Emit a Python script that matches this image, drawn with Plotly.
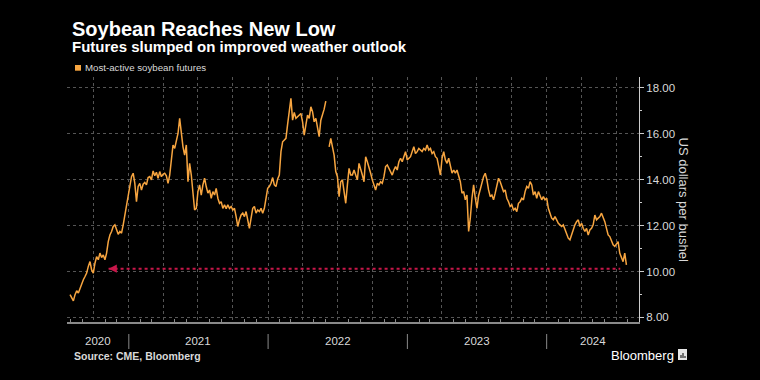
import pandas as pd
import plotly.graph_objects as go

# ---------------- data ----------------
SERIES_NAME = "Most-active soybean futures"
START_DATE = "2020-07-31"
END_DATE = "2024-07-28"
X_RANGE = ["2020-07-23", "2024-08-30"]
Y_RANGE = [7.8, 18.47]
Y_TICKS = [8, 10, 12, 14, 16, 18]
YEARS = [2020, 2021, 2022, 2023, 2024]

futures_price = [
    8.99, 8.84, 8.72, 8.99, 9.16, 9.06, 9.28, 9.45, 9.64, 9.78, 9.93, 10.22, 10.43, 10.07, 9.93,
    10.36, 10.65, 10.51, 10.80, 10.61, 10.72, 10.51, 10.80, 11.30, 11.59, 11.74, 11.96, 12.03,
    11.77, 11.62, 11.74, 11.67, 12.03, 12.46, 12.90, 13.41, 13.70, 14.13, 14.28, 13.84, 13.04,
    13.70, 13.84, 13.55, 13.80, 13.88, 13.77, 14.09, 14.13, 13.99, 14.38, 14.17, 14.32, 14.06,
    14.35, 14.13, 14.23,
    14.28, 14.17, 13.84, 14.20, 14.86, 15.51, 15.36, 15.72, 16.01, 16.67, 15.94, 15.43, 15.07,
    15.51, 13.91, 14.71, 14.20, 13.48, 12.68, 12.75, 13.48, 13.77, 13.33, 13.77, 14.06, 13.70,
    13.41, 13.55, 13.19, 13.48, 13.33, 13.62, 13.19, 12.97, 13.04, 12.75, 12.90, 12.74, 12.90,
    12.75, 12.83, 12.68, 12.75, 12.39, 11.96, 12.25, 12.46, 12.54, 12.39, 12.61, 12.25, 11.88,
    12.32, 12.75, 12.83, 12.54, 12.68, 12.61, 12.75,
    12.54, 12.75, 13.19, 13.62, 13.70, 13.84, 14.09, 13.77, 13.70, 14.03, 14.20, 15.22, 15.65,
    15.72, 15.80, 16.41, 16.96, 17.54, 16.59, 16.93, 16.67, 16.74, 16.81, 16.88, 16.52, 15.94,
    16.38, 16.81, 16.67, 17.17, 16.96, 16.52, 16.67, 16.23, 15.87, 16.59, 16.81, 17.07, 17.42,
    None, 15.43, 15.80, 15.43, 15.07, 14.35, 14.13, 13.26, 13.91, 13.99, 13.33, 12.97, 13.77,
    14.49, 14.20, 14.20, 14.42, 14.20, 13.99, 14.71,
    14.49, 14.20, 13.91, 15.00, 14.78, 14.57, 14.28, 13.99, 13.77, 13.55, 13.84, 13.77, 13.91,
    13.84, 14.13, 14.57, 14.64, 14.49, 14.35, 14.20, 14.42, 14.57, 14.42, 14.78, 14.93, 14.78,
    15.00, 15.22, 14.86, 14.93, 15.00, 15.22, 15.43, 15.14, 15.22, 15.36, 15.29, 15.22, 15.36,
    15.29, 15.51, 15.29, 15.36, 15.14, 15.22, 15.00, 14.93, 14.49, 14.20, 14.93, 15.22, 14.86,
    14.71, 14.93, 14.57, 14.28, 14.42, 14.28, 14.42,
    14.13, 13.91, 13.41, 13.48, 13.12, 13.33, 11.74, 12.32, 13.19, 13.77, 13.20, 12.75, 13.30,
    13.62, 13.91, 14.13, 14.28, 13.99, 13.55, 13.26, 13.33, 13.12, 13.41, 13.70, 14.06, 13.91,
    13.70, 13.48, 13.55, 13.19, 13.04, 12.83, 12.90, 12.68, 12.75, 12.61, 12.97, 13.04, 13.19,
    13.12, 13.48, 13.70, 13.62, 13.91, 13.77, 13.33, 13.48, 13.19, 13.48, 13.33, 13.12, 13.26,
    13.12, 13.19, 12.75, 12.54, 12.32, 12.25, 12.39,
    12.25, 12.10, 12.03, 11.96, 12.03, 11.81, 11.67, 11.45, 11.38, 11.59, 11.88, 12.03, 12.17,
    12.25, 11.96, 12.10, 11.88, 11.74, 11.88, 11.59, 11.81, 11.88, 12.03, 12.46, 12.25, 12.32,
    12.39, 12.54, 12.39, 12.17, 11.88, 11.59, 11.52, 11.30, 11.16, 11.09, 11.23, 11.30, 10.80,
    10.58, 10.43, 10.80, 10.29,
]

# arrow: current level pointing back to when prices were last this low
ARROW_LEVEL = 10.12
ARROW_FROM = "2024-07-12"
ARROW_TO = "2020-11-09"

dates = pd.date_range(START_DATE, END_DATE, periods=len(futures_price))

# ---------------- styling ----------------
W, H = 760, 380
L, R, T, B = 67, 121, 77, 58
ORANGE = "#f7a540"
GRID = "#555555"
TXT = "#d9d9d9"
FONT = "Liberation Sans, Arial, sans-serif"
PW, PH = W - L - R, H - T - B


def px_x(px):
    return (px - L) / PW


def px_y(py):
    return (H - B - py) / PH


fig = go.Figure()
fig.add_trace(go.Scatter(
    x=dates, y=futures_price, mode="lines", name=SERIES_NAME,
    line=dict(color=ORANGE, width=1.5), showlegend=False, connectgaps=False,
))

shapes = []
annotations = []

# red dotted arrow line
shapes.append(dict(type="line", xref="x", yref="y", x0=ARROW_TO, x1=ARROW_FROM,
                   y0=ARROW_LEVEL, y1=ARROW_LEVEL,
                   line=dict(color="#c8174a", width=2, dash="dot"), layer="above"))
annotations.append(dict(x=ARROW_TO, y=ARROW_LEVEL, xref="x", yref="y", ax=10, ay=0,
                        axref="pixel", ayref="pixel", showarrow=True, arrowhead=2,
                        arrowsize=1.1, arrowwidth=1.5, arrowcolor="#c8174a", text=""))

# year separators and labels
x0 = pd.Timestamp(X_RANGE[0])
x1 = pd.Timestamp(X_RANGE[1])
for yr in YEARS:
    ys = max(pd.Timestamp(f"{yr}-01-01"), x0)
    ye = min(pd.Timestamp(f"{yr + 1}-01-01"), x1)
    mid = ys + (ye - ys) / 2
    annotations.append(dict(x=mid, y=px_y(341), xref="x", yref="paper", text=str(yr),
                            showarrow=False, font=dict(family=FONT, size=11.5, color=TXT),
                            xanchor="center", yanchor="middle"))
    if pd.Timestamp(f"{yr}-01-01") > x0:
        shapes.append(dict(type="line", xref="x", yref="paper", x0=f"{yr}-01-01",
                           x1=f"{yr}-01-01", y0=px_y(349), y1=px_y(334),
                           line=dict(color="#8a8a8a", width=1)))

# titles
annotations.append(dict(x=px_x(70), y=px_y(29), xref="paper", yref="paper",
                        text="<b>Soybean Reaches New Low</b>", showarrow=False,
                        xanchor="left", yanchor="middle",
                        font=dict(family=FONT, size=20, color="#ffffff")))
annotations.append(dict(x=px_x(70), y=px_y(46.5), xref="paper", yref="paper",
                        text="<b>Futures slumped on improved weather outlook</b>",
                        showarrow=False, xanchor="left", yanchor="middle",
                        font=dict(family=FONT, size=15, color="#ffffff")))
# legend
shapes.append(dict(type="rect", xref="paper", yref="paper", x0=px_x(75), x1=px_x(81),
                   y0=px_y(70.7), y1=px_y(65), fillcolor=ORANGE, line=dict(width=0)))
annotations.append(dict(x=px_x(82.5), y=px_y(67.5), xref="paper", yref="paper",
                        text=SERIES_NAME, showarrow=False, xanchor="left",
                        yanchor="middle", font=dict(family=FONT, size=9.7, color=TXT)))
# y axis title
annotations.append(dict(x=px_x(683), y=0.5, xref="paper", yref="paper",
                        text="US dollars per bushel", textangle=90, showarrow=False,
                        xanchor="center", yanchor="middle",
                        font=dict(family=FONT, size=13, color=TXT)))
# footer
annotations.append(dict(x=px_x(72), y=px_y(356), xref="paper", yref="paper",
                        text="<b>Source: CME, Bloomberg</b>", showarrow=False,
                        xanchor="left", yanchor="middle",
                        font=dict(family=FONT, size=10.5, color=TXT)))
annotations.append(dict(x=px_x(676), y=px_y(355), xref="paper", yref="paper",
                        text="Bloomberg", showarrow=False, xanchor="right",
                        yanchor="middle", font=dict(family=FONT, size=13, color="#ffffff")))
shapes.append(dict(type="rect", xref="paper", yref="paper", x0=px_x(678), x1=px_x(687),
                   y0=px_y(360), y1=px_y(349), fillcolor="#e6e6e6", line=dict(width=0)))
for bx, by in [(681, 355), (683, 353), (685, 356)]:
    shapes.append(dict(type="line", xref="paper", yref="paper", x0=px_x(bx), x1=px_x(bx),
                       y0=px_y(358), y1=px_y(by), line=dict(color="#000000", width=1)))

fig.update_layout(
    width=W, height=H,
    margin=dict(l=L, r=R, t=T, b=B),
    paper_bgcolor="#000000", plot_bgcolor="#000000",
    showlegend=False,
    shapes=shapes, annotations=annotations,
    font=dict(family=FONT, color=TXT),
    xaxis=dict(
        type="date", range=X_RANGE, dtick="M3", tick0="2020-01-01",
        showgrid=True, gridcolor=GRID, griddash="dot", gridwidth=1,
        showticklabels=False, ticks="", zeroline=False,
        showline=True, linecolor="#8a8a8a", linewidth=1.5,
        minor=dict(dtick="M1", tick0="2020-01-01", ticks="inside", ticklen=3,
                   tickcolor="#8a8a8a", showgrid=False),
    ),
    yaxis=dict(
        side="right", range=Y_RANGE, tickvals=Y_TICKS, tickformat=".2f",
        showgrid=True, gridcolor=GRID, griddash="dot", gridwidth=1,
        zeroline=False, showline=True, linecolor="#cccccc", linewidth=1,
        ticks="outside", ticklen=4, tickcolor="#cccccc",
        tickfont=dict(family=FONT, size=11.5, color=TXT),
        minor=dict(tickvals=[9, 11, 13, 15, 17], ticks="outside", ticklen=2,
                   tickcolor="#cccccc", showgrid=False),
    ),
)

fig.write_html(
    "out.html",
    config={"displayModeBar": False},
    post_script="document.body.style.margin='0px';document.body.style.background='#000';"
                "document.documentElement.style.overflow='hidden';",
)
